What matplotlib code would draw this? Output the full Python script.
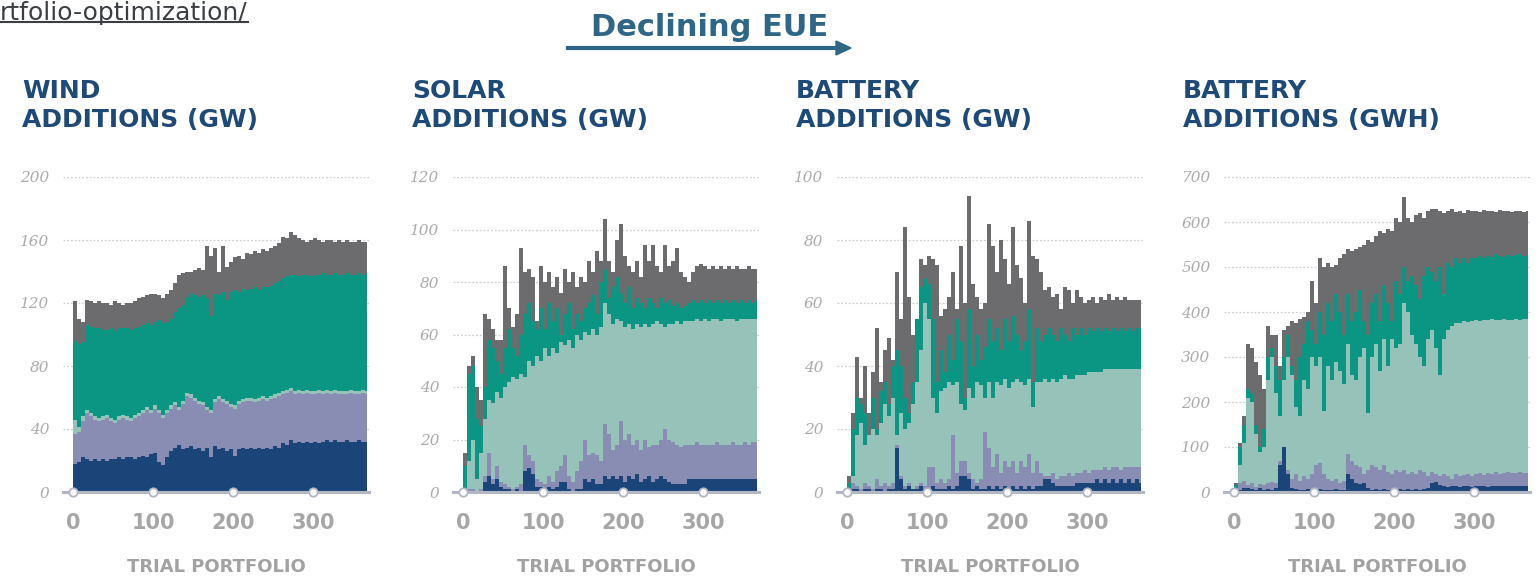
import matplotlib.pyplot as plt
import numpy as np

# Trial portfolio index (read every 5 trials) and the last trial
trial = np.arange(0, 366, 5)
trial_end = 368

# Stack levels (top of each layer, bottom -> top)
# Layers: navy, lavender, light teal, teal, grey

# Wind additions (GW)
wind_navy = [18, 19, 22, 21, 20, 21, 20, 21, 20, 21,
             21, 22, 21, 22, 22, 21, 22, 23, 22, 24,
             25, 19, 17, 22, 26, 28, 30, 27, 28, 29,
             27, 28, 26, 28, 22, 29, 27, 28, 26, 27,
             23, 27, 28, 27, 28, 27, 28, 27, 28, 27,
             29, 28, 31, 30, 33, 31, 32, 31, 32, 31,
             32, 31, 32, 33, 32, 33, 32, 32, 33, 32,
             32, 33, 32, 32]
wind_lavender = [37, 38, 45, 50, 48, 46, 45, 46, 47, 45,
                 44, 46, 47, 46, 45, 47, 48, 50, 52, 50,
                 53, 50, 47, 50, 53, 55, 52, 56, 61, 60,
                 58, 56, 55, 52, 50, 57, 59, 57, 56, 54,
                 53, 56, 57, 58, 58, 57, 58, 59, 58, 59,
                 60, 61, 62, 63, 64, 62, 63, 62, 63, 62,
                 62, 63, 62, 63, 62, 63, 62, 62, 62, 63,
                 62, 62, 63, 62]
wind_lightteal = [46, 41, 48, 52, 50, 48, 47, 48, 49, 47,
                  46, 48, 49, 48, 47, 49, 50, 52, 54, 52,
                  55, 52, 49, 52, 55, 57, 54, 58, 63, 62,
                  60, 58, 57, 54, 52, 59, 61, 59, 58, 56,
                  55, 58, 59, 60, 60, 59, 60, 61, 60, 61,
                  62, 63, 64, 65, 66, 64, 65, 64, 65, 64,
                  64, 65, 64, 65, 64, 65, 64, 64, 64, 65,
                  64, 64, 65, 64]
wind_teal = [96, 94, 95, 106, 105, 104, 104, 103, 103, 104,
             102, 104, 104, 104, 103, 104, 105, 106, 107, 106,
             108, 109, 107, 108, 110, 114, 117, 119, 124, 126,
             125, 124, 125, 123, 112, 126, 125, 127, 122, 127,
             128, 127, 129, 128, 129, 130, 128, 130, 130, 131,
             133, 134, 136, 137, 138, 138, 137, 138, 138, 137,
             138, 138, 139, 138, 138, 139, 138, 138, 139, 138,
             138, 139, 138, 139]
wind_grey = [121, 110, 108, 122, 121, 120, 121, 120, 120, 119,
             121, 120, 119, 120, 120, 121, 123, 124, 125, 126,
             126, 125, 123, 126, 128, 133, 138, 139, 140, 140,
             141, 142, 141, 156, 150, 155, 140, 156, 143, 146,
             149, 150, 148, 152, 151, 153, 152, 154, 153, 155,
             156, 158, 162, 161, 165, 163, 161, 160, 159, 160,
             161, 160, 159, 160, 160, 159, 160, 159, 160, 159,
             159, 160, 159, 159]

# Solar additions (GW)
solar_navy = [0, 0, 0, 0, 0, 4, 6, 3, 5, 2,
              1, 1, 0, 1, 0, 8, 9, 7, 2, 2,
              1, 2, 1, 2, 4, 4, 1, 0, 1, 1,
              5, 4, 5, 3, 3, 6, 5, 6, 5, 6,
              4, 6, 5, 7, 4, 5, 6, 4, 5, 6,
              5, 4, 3, 3, 3, 3, 5, 5, 5, 5,
              5, 5, 5, 5, 5, 5, 5, 5, 5, 5,
              5, 5, 5, 5]
solar_lavender = [0, 1, 1, 0, 1, 6, 15, 5, 10, 4,
                  3, 2, 1, 2, 3, 18, 14, 12, 5, 4,
                  3, 6, 4, 8, 10, 14, 6, 4, 8, 12,
                  20, 14, 15, 14, 12, 26, 22, 16, 18, 27,
                  20, 22, 18, 20, 16, 20, 17, 18, 18, 20,
                  24, 20, 19, 18, 17, 18, 18, 18, 19, 18,
                  18, 18, 18, 19, 18, 18, 18, 19, 18, 18,
                  19, 18, 19, 19]
solar_lightteal = [0, 12, 20, 5, 15, 28, 35, 34, 38, 36,
                   40, 42, 44, 43, 45, 44, 50, 48, 52, 50,
                   55, 52, 55, 53, 57, 56, 58, 55, 60, 58,
                   61, 60, 62, 60, 63, 72, 68, 64, 66, 65,
                   63, 64, 62, 64, 63, 64, 63, 64, 65, 64,
                   63, 64, 64, 65, 64, 65, 65, 65, 66, 65,
                   66, 65, 66, 66, 65, 66, 66, 66, 65, 66,
                   66, 66, 66, 66]
solar_teal = [10, 45, 48, 28, 25, 40, 58, 55, 50, 45,
              55, 62, 55, 52, 60, 68, 72, 65, 62, 70,
              62, 72, 65, 70, 60, 68, 72, 62, 68, 65,
              70, 72, 75, 68, 80, 85, 74, 78, 82, 76,
              72, 78, 70, 74, 72, 70, 74, 72, 70, 74,
              72, 73, 71, 72, 70, 71, 72, 73, 72, 73,
              72, 73, 72, 73, 72, 73, 72, 73, 72, 73,
              72, 73, 72, 73]
solar_grey = [15, 48, 52, 40, 35, 68, 66, 62, 58, 58,
              86, 70, 63, 68, 93, 84, 85, 82, 65, 86,
              80, 84, 78, 82, 76, 85, 80, 84, 78, 82,
              80, 88, 84, 92, 88, 104, 88, 84, 96, 102,
              90, 86, 84, 88, 82, 94, 88, 94, 86, 84,
              94, 86, 88, 93, 84, 82, 80, 84, 86, 87,
              86, 85, 86, 85, 86, 85, 86, 85, 86, 85,
              85, 86, 85, 85]

# Battery additions (GW)
batt_gw_navy = [0, 1, 1, 0, 1, 1, 0, 1, 1, 0,
                1, 1, 14, 4, 1, 2, 1, 1, 2, 1,
                1, 2, 1, 1, 1, 2, 1, 2, 5, 5,
                4, 1, 2, 1, 1, 2, 1, 2, 1, 2,
                1, 2, 1, 2, 1, 2, 1, 2, 2, 4,
                4, 3, 2, 2, 2, 2, 2, 3, 3, 3,
                3, 3, 4, 3, 4, 3, 4, 3, 4, 3,
                4, 3, 4, 3]
batt_gw_lavender = [0, 3, 2, 1, 3, 2, 1, 4, 2, 3,
                    2, 3, 15, 5, 2, 3, 1, 2, 3, 2,
                    8, 8, 3, 4, 3, 4, 18, 6, 10, 10,
                    6, 4, 3, 4, 19, 14, 8, 12, 6, 10,
                    8, 10, 6, 10, 8, 12, 6, 10, 6, 5,
                    5, 6, 4, 5, 5, 6, 5, 6, 6, 7,
                    6, 7, 7, 7, 8, 7, 8, 8, 7, 8,
                    8, 8, 8, 8]
batt_gw_lightteal = [0, 5, 18, 22, 15, 18, 20, 18, 22, 28,
                     24, 30, 18, 25, 20, 22, 28, 35, 45, 60,
                     55, 30, 25, 32, 33, 35, 34, 35, 28, 26,
                     33, 30, 35, 34, 30, 35, 30, 35, 34, 36,
                     33, 35, 36, 35, 34, 36, 27, 35, 35, 36,
                     35, 36, 35, 36, 37, 36, 36, 37, 37, 37,
                     38, 38, 38, 38, 39, 39, 39, 39, 39, 39,
                     39, 39, 39, 39]
batt_gw_teal = [3, 20, 30, 28, 25, 18, 30, 20, 32, 35,
                28, 40, 45, 40, 30, 25, 35, 55, 65, 68,
                66, 55, 35, 45, 38, 50, 42, 55, 48, 30,
                58, 40, 50, 42, 46, 55, 48, 52, 45, 55,
                48, 56, 50, 45, 48, 58, 35, 52, 48, 50,
                52, 50, 48, 52, 50, 48, 52, 50, 52, 50,
                52, 51, 52, 51, 52, 51, 52, 51, 52, 51,
                52, 51, 52, 52]
batt_gw_grey = [5, 25, 43, 30, 40, 25, 38, 52, 35, 45,
                49, 42, 70, 55, 84, 62, 50, 45, 74, 72,
                75, 74, 72, 56, 58, 62, 70, 58, 78, 60,
                94, 66, 62, 58, 60, 85, 78, 70, 80, 74,
                66, 84, 72, 68, 60, 86, 75, 74, 70, 64,
                65, 62, 63, 58, 65, 64, 60, 64, 62, 60,
                61, 62, 60, 62, 61, 63, 61, 62, 61, 62,
                61, 61, 61, 61]

# Battery additions (GWh)
batt_gwh_navy = [3, 5, 8, 10, 6, 5, 8, 4, 6, 5,
                 8, 60, 100, 40, 8, 6, 5, 4, 6, 5,
                 5, 6, 5, 4, 5, 6, 5, 5, 40, 30,
                 20, 18, 20, 8, 5, 6, 5, 6, 5, 6,
                 5, 6, 5, 6, 5, 6, 5, 6, 10, 20,
                 22, 15, 14, 12, 13, 14, 12, 13, 14, 12,
                 13, 14, 13, 12, 14, 13, 14, 13, 14, 13,
                 14, 13, 14, 14]
batt_gwh_lavender = [10, 20, 25, 15, 20, 12, 18, 15, 20, 22,
                     20, 70, 100, 50, 30, 40, 25, 35, 30, 40,
                     60, 65, 40, 30, 25, 30, 20, 25, 85, 70,
                     60, 55, 40, 50, 60, 55, 50, 60, 45, 40,
                     50, 45, 50, 40, 45, 40, 50, 45, 35, 45,
                     40, 35, 40, 35, 30, 40, 35, 38, 40, 35,
                     40, 42, 38, 42, 40, 44, 40, 42, 44, 42,
                     42, 44, 42, 42]
batt_gwh_lightteal = [10, 60, 110, 210, 200, 130, 90, 100, 250, 300,
                      220, 170, 250, 300, 260, 190, 170, 250, 230, 300,
                      280, 300, 180, 280, 250, 290, 270, 240, 330, 260,
                      250, 300, 320, 175, 300, 330, 270, 340, 280, 340,
                      320, 330, 420, 400, 350, 330, 300, 280, 340, 360,
                      320, 260, 340, 360, 370, 375, 375, 380, 378, 380,
                      382, 380, 383, 382, 384, 383, 382, 384, 383, 382,
                      384, 383, 384, 384]
batt_gwh_teal = [15, 100, 150, 230, 220, 150, 100, 140, 300, 320,
                 280, 250, 300, 350, 280, 250, 300, 330, 380, 360,
                 330, 400, 350, 420, 380, 440, 400, 350, 440, 380,
                 400, 450, 380, 350, 420, 440, 380, 460, 420, 380,
                 470, 440, 500, 470, 480, 460, 430, 480, 500, 490,
                 470, 500, 440, 510, 500, 520, 510, 520, 510, 520,
                 520, 525, 520, 525, 522, 528, 525, 522, 526, 524,
                 526, 528, 525, 527]
batt_gwh_grey = [20, 110, 170, 330, 320, 290, 260, 230, 370, 350,
                 350, 280, 360, 370, 380, 375, 385, 390, 400, 470,
                 420, 520, 500, 510, 500, 505, 520, 530, 540, 535,
                 540, 545, 550, 560, 555, 570, 580, 575, 585, 580,
                 610, 600, 655, 610, 600, 615, 620, 610, 625, 630,
                 630, 625, 620, 625, 628, 622, 625, 620, 626, 624,
                 625, 622, 626, 624, 625, 623, 626, 624, 625, 622,
                 624, 625, 623, 624]

titles = [('WIND', 'ADDITIONS (GW)'), ('SOLAR', 'ADDITIONS (GW)'),
          ('BATTERY', 'ADDITIONS (GW)'), ('BATTERY', 'ADDITIONS (GWH)')]
stacks = [
    [wind_navy, wind_lavender, wind_lightteal, wind_teal, wind_grey],
    [solar_navy, solar_lavender, solar_lightteal, solar_teal, solar_grey],
    [batt_gw_navy, batt_gw_lavender, batt_gw_lightteal, batt_gw_teal, batt_gw_grey],
    [batt_gwh_navy, batt_gwh_lavender, batt_gwh_lightteal, batt_gwh_teal, batt_gwh_grey],
]
y_ticks = [np.arange(0, 201, 40), np.arange(0, 121, 20),
           np.arange(0, 101, 20), np.arange(0, 701, 100)]
x_ticks = [0, 100, 200, 300]

layer_colors = ['#1b4579', '#8a8db3', '#96c2b9', '#0a9682', '#6c6c6e']
title_color = '#1f4a78'
arrow_color = '#2f6586'
label_grey = '#a6a6a6'

W, H = 1539, 576
fig = plt.figure(figsize=(W / 100, H / 100), dpi=100)

# axes placement in pixels
ax_left_px = [63.4, 453.4, 837.4, 1224.4]
ax_w_px, ax_bottom_px, ax_h_px = 305.6, 84, 315

edges = np.append(trial, trial_end)

for k in range(4):
    ax = fig.add_axes([ax_left_px[k] / W, ax_bottom_px / H, ax_w_px / W, ax_h_px / H])
    ax.set_facecolor('white')

    levels = np.maximum.accumulate(np.array(stacks[k], dtype=float), axis=0)
    base = np.zeros(len(trial))
    for top, c in zip(levels, layer_colors):
        ax.stairs(top, edges, baseline=base, fill=True, color=c, lw=0, zorder=2)
        base = top

    ax.set_xlim(-12, 370)
    ax.set_ylim(0, y_ticks[k][-1])
    ax.set_yticks(y_ticks[k])
    ax.set_xticks(x_ticks)

    ax.yaxis.grid(True, color='#cfcfcf', linestyle=(0, (1.5, 1.5)), lw=0.9, zorder=0)
    ax.set_axisbelow(True)
    for s in ax.spines.values():
        s.set_visible(False)

    ax.tick_params(axis='y', length=0, pad=10, labelsize=11, labelcolor='#ababab')
    ax.tick_params(axis='x', length=0, pad=15, labelsize=15, labelcolor=label_grey)
    for t in ax.get_yticklabels():
        t.set_fontfamily('DejaVu Serif')
        t.set_fontstyle('italic')
    for t in ax.get_xticklabels():
        t.set_fontweight('bold')

    # bottom axis line with hollow dots at the ticks
    ax.axhline(0, color='#b3b6c3', lw=2.2, zorder=4, clip_on=False)
    ax.plot(x_ticks, [0] * len(x_ticks), 'o', ms=6, mfc='white', mec='#b3b6c3',
            mew=1.3, zorder=5, clip_on=False)

    ax.text(0.5, -0.254, 'TRIAL PORTFOLIO', transform=ax.transAxes, ha='center',
            va='baseline', fontsize=13, fontweight='bold', color='#a2a2a2')

    tx = -41.5 / ax_w_px
    ax.text(tx, 1.2508, titles[k][0], transform=ax.transAxes, ha='left', va='baseline',
            fontsize=18, fontweight='bold', color=title_color)
    ax.text(tx, 1.1587, titles[k][1], transform=ax.transAxes, ha='left', va='baseline',
            fontsize=18, fontweight='bold', color=title_color)

# link text at the top left, with its underline
link = fig.text(0, 1 - 1 / H, 'rtfolio-optimization/', ha='left', va='top',
                fontsize=18, color='#3b3f44')
fig.canvas.draw()
bb = link.get_window_extent()
fig.add_artist(plt.Line2D([0, bb.x1 / W], [1 - 22 / H, 1 - 22 / H], color='#3b3f44', lw=1.5))

# "Declining EUE" arrow
fig.text(710 / W, 1 - 36 / H, 'Declining EUE', ha='center', va='baseline',
         fontsize=22, fontweight='bold', color=arrow_color)
fig.add_artist(plt.Line2D([568 / W, 840 / W], [1 - 48 / H, 1 - 48 / H], color=arrow_color, lw=3))
fig.add_artist(plt.Polygon([[836 / W, 1 - 41 / H], [851 / W, 1 - 48 / H], [836 / W, 1 - 55 / H]],
                           closed=True, color=arrow_color))

fig.savefig('out.png', dpi=100, facecolor='white')
